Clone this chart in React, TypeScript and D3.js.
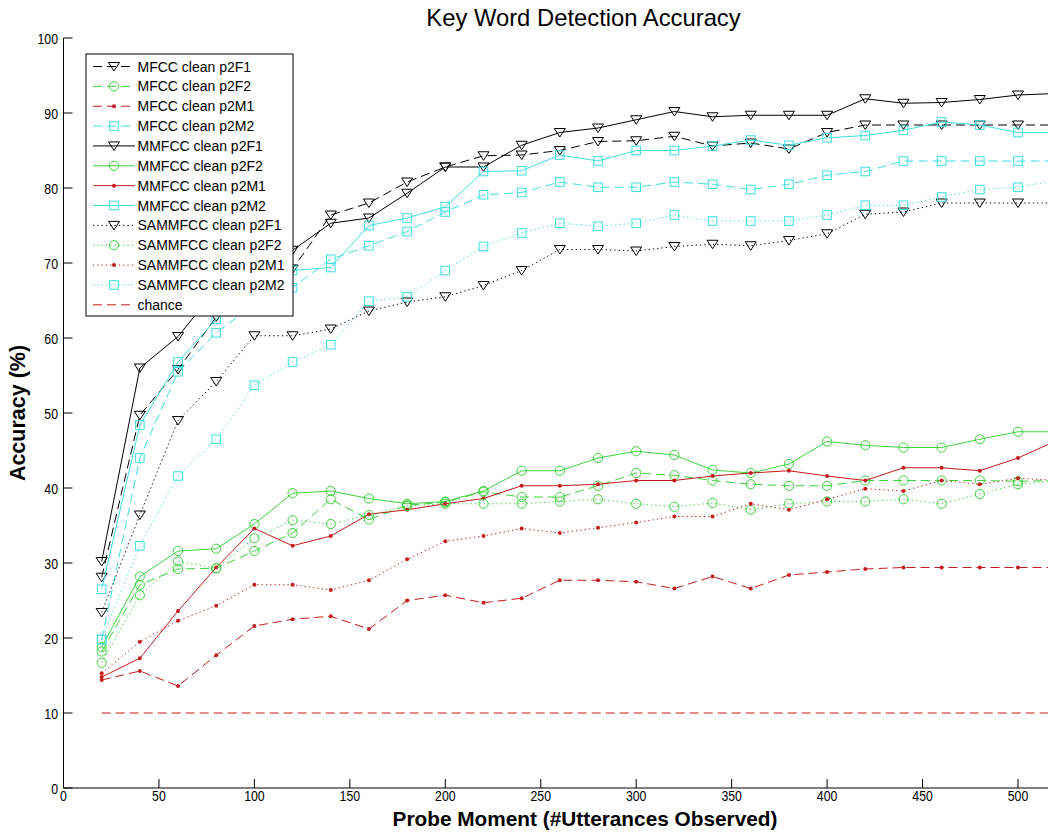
import React from "react";
import * as d3 from "d3";

const probeMoments = [20, 40, 60, 80, 100, 120, 140, 160, 180, 200, 220, 240, 260, 280, 300, 320, 340, 360, 380, 400, 420, 440, 460, 480, 500, 520];

const mfccF1 = [28.1, 49.7, 55.8, 62.8, 66.5, 69.2, 76.4, 78.0, 80.8, 82.8, 84.3, 84.4, 85.0, 86.2, 86.3, 86.9, 85.6, 86.0, 85.2, 87.4, 88.4, 88.4, 88.4, 88.4, 88.4, 88.4];
const mfccF2 = [18.2, 27.1, 29.2, 29.3, 31.6, 34.0, 38.5, 35.8, 37.7, 38.1, 39.5, 38.8, 38.8, 40.3, 42.0, 41.7, 41.0, 40.5, 40.3, 40.3, 41.0, 41.0, 41.0, 41.0, 40.9, 41.0];
const mfccM1 = [14.4, 15.6, 13.6, 17.7, 21.6, 22.5, 22.9, 21.2, 25.0, 25.7, 24.7, 25.3, 27.7, 27.7, 27.5, 26.6, 28.2, 26.6, 28.4, 28.8, 29.2, 29.4, 29.4, 29.4, 29.4, 29.4];
const mfccM2 = [19.8, 44.0, 55.5, 60.7, 64.5, 66.7, 70.5, 72.3, 74.2, 76.8, 79.1, 79.4, 80.8, 80.1, 80.1, 80.8, 80.5, 79.8, 80.5, 81.7, 82.2, 83.6, 83.6, 83.6, 83.6, 83.6];
const mmfccF1 = [30.2, 56.0, 60.2, 66.5, 68.8, 71.7, 75.3, 76.0, 79.3, 82.8, 82.8, 85.7, 87.4, 88.0, 89.1, 90.2, 89.5, 89.7, 89.7, 89.7, 91.9, 91.3, 91.4, 91.8, 92.4, 92.6];
const mmfccF2 = [18.8, 28.2, 31.6, 31.9, 35.2, 39.3, 39.6, 38.6, 37.9, 38.2, 39.6, 42.3, 42.3, 44.0, 44.9, 44.4, 42.4, 42.0, 43.2, 46.2, 45.7, 45.4, 45.4, 46.5, 47.5, 47.5];
const mmfccM1 = [14.8, 17.3, 23.6, 29.4, 34.6, 32.3, 33.6, 36.5, 37.1, 37.9, 38.6, 40.3, 40.3, 40.5, 41.0, 41.0, 41.6, 42.0, 42.3, 41.6, 41.0, 42.7, 42.7, 42.3, 44.0, 46.3];
const mmfccM2 = [26.5, 48.4, 56.8, 62.5, 66.0, 69.0, 69.4, 75.0, 76.0, 77.5, 82.2, 82.3, 84.4, 83.6, 85.0, 85.0, 85.6, 86.4, 85.7, 86.7, 87.0, 87.7, 88.8, 88.4, 87.4, 87.4];
const sammfccF1 = [23.4, 36.4, 49.0, 54.2, 60.3, 60.3, 61.2, 63.6, 64.8, 65.5, 67.0, 69.0, 71.8, 71.8, 71.6, 72.2, 72.5, 72.3, 73.0, 73.9, 76.5, 76.8, 78.0, 78.0, 78.0, 78.0];
const sammfccF2 = [16.7, 25.7, 30.2, 29.3, 33.3, 35.7, 35.2, 36.4, 37.6, 37.9, 37.9, 37.9, 38.2, 38.5, 37.9, 37.5, 38.0, 37.1, 37.9, 38.2, 38.2, 38.5, 37.9, 39.2, 40.5, 41.0];
const sammfccM1 = [15.3, 19.5, 22.3, 24.3, 27.1, 27.1, 26.4, 27.7, 30.5, 32.9, 33.6, 34.6, 34.0, 34.7, 35.4, 36.2, 36.2, 37.9, 37.1, 38.5, 39.9, 39.6, 41.0, 40.5, 41.3, 41.0];
const sammfccM2 = [19.8, 32.3, 41.6, 46.5, 53.7, 56.8, 59.1, 64.9, 65.5, 69.0, 72.2, 74.0, 75.3, 74.9, 75.3, 76.4, 75.6, 75.6, 75.6, 76.4, 77.7, 77.7, 78.8, 79.8, 80.1, 81.0];
const chanceX = [20, 550];
const chanceY = [10, 10];

const xTicks = [0, 50, 100, 150, 200, 250, 300, 350, 400, 450, 500];
const yTicks = [0, 10, 20, 30, 40, 50, 60, 70, 80, 90, 100];

type Marker = "tri" | "circle" | "dot" | "square" | "none";
interface Series { name: string; values: number[]; xs: number[]; color: string; dash: string; marker: Marker; }

const BLACK = "#000000";
const GREEN = "#3fd23f";
const RED = "#c41c1c";
const CYAN = "#3fe0e0";
const DASH = "9,5";
const DOT = "1.3,3";

const series: Series[] = [
  { name: "MFCC clean p2F1", values: mfccF1, xs: probeMoments, color: BLACK, dash: DASH, marker: "tri" },
  { name: "MFCC clean p2F2", values: mfccF2, xs: probeMoments, color: GREEN, dash: DASH, marker: "circle" },
  { name: "MFCC clean p2M1", values: mfccM1, xs: probeMoments, color: RED, dash: DASH, marker: "dot" },
  { name: "MFCC clean p2M2", values: mfccM2, xs: probeMoments, color: CYAN, dash: DASH, marker: "square" },
  { name: "MMFCC clean p2F1", values: mmfccF1, xs: probeMoments, color: BLACK, dash: "", marker: "tri" },
  { name: "MMFCC clean p2F2", values: mmfccF2, xs: probeMoments, color: GREEN, dash: "", marker: "circle" },
  { name: "MMFCC clean p2M1", values: mmfccM1, xs: probeMoments, color: RED, dash: "", marker: "dot" },
  { name: "MMFCC clean p2M2", values: mmfccM2, xs: probeMoments, color: CYAN, dash: "", marker: "square" },
  { name: "SAMMFCC clean p2F1", values: sammfccF1, xs: probeMoments, color: BLACK, dash: DOT, marker: "tri" },
  { name: "SAMMFCC clean p2F2", values: sammfccF2, xs: probeMoments, color: GREEN, dash: DOT, marker: "circle" },
  { name: "SAMMFCC clean p2M1", values: sammfccM1, xs: probeMoments, color: RED, dash: DOT, marker: "dot" },
  { name: "SAMMFCC clean p2M2", values: sammfccM2, xs: probeMoments, color: CYAN, dash: DOT, marker: "square" },
  { name: "chance", values: chanceY, xs: chanceX, color: RED, dash: DASH, marker: "none" },
];

const W = 1048;
const H = 832;
const x = d3.scaleLinear().domain([0, 550]).range([63.5, 63.5 + 550 * 1.909]);
const y = d3.scaleLinear().domain([0, 100]).range([788, 38]);

function MarkerShape({ m, cx, cy, color }: { m: Marker; cx: number; cy: number; color: string }) {
  if (m === "tri") {
    return <polygon points={`${cx - 5.5},${cy - 4} ${cx + 5.5},${cy - 4} ${cx},${cy + 4.5}`} fill="none" stroke={color} strokeWidth={1} />;
  }
  if (m === "circle") return <circle cx={cx} cy={cy} r={4.6} fill="none" stroke={color} strokeWidth={1} />;
  if (m === "square") return <rect x={cx - 4.3} y={cy - 4.3} width={8.6} height={8.6} fill="none" stroke={color} strokeWidth={1} />;
  if (m === "dot") return <circle cx={cx} cy={cy} r={2} fill={color} />;
  return null;
}

export default function App() {
  const line = d3.line<[number, number]>().x((d) => x(d[0])).y((d) => y(d[1]));
  const font = "'Liberation Sans', Arial, Helvetica, sans-serif";
  const legX = 86, legY = 54, legW = 207, legH = 262;
  const rowH = 19.86;
  return (
    <svg width={W} height={H} style={{ position: "absolute", left: 0, top: 0, background: "#fff" }} fontFamily={font}>
      <rect x={0} y={0} width={W} height={H} fill="#fff" />
      <text x={583.5} y={26} textAnchor="middle" fontSize={23.8} fill="#000">Key Word Detection Accuracy</text>
      {/* axes */}
      <line x1={x(0)} y1={y(0)} x2={W + 10} y2={y(0)} stroke="#000" strokeWidth={1} />
      <line x1={x(0)} y1={y(0)} x2={x(0)} y2={y(100)} stroke="#000" strokeWidth={1} />
      {yTicks.map((t) => (
        <g key={"y" + t}>
          <line x1={x(0)} x2={x(0) + 9} y1={y(t)} y2={y(t)} stroke="#000" />
          <text transform={`translate(58, ${y(t) + 5.5}) scale(0.82,1)`} textAnchor="end" fontSize={15} fill="#000">{t}</text>
        </g>
      ))}
      {xTicks.map((t) => (
        <g key={"x" + t}>
          <line x1={x(t)} x2={x(t)} y1={y(0)} y2={y(0) - 9} stroke="#000" />
          <text transform={`translate(${x(t)}, 801) scale(0.82,1)`} textAnchor="middle" fontSize={15} fill="#000">{t}</text>
        </g>
      ))}
      <text x={585} y={826} textAnchor="middle" fontSize={20.8} fontWeight="bold" fill="#000">Probe Moment (#Utterances Observed)</text>
      <text transform={`translate(25, 413) rotate(-90)`} textAnchor="middle" fontSize={21.5} fontWeight="bold" fill="#000">Accuracy (%)</text>
      {/* series */}
      {series.map((s) => {
        const pts: [number, number][] = s.xs.map((xv, i) => [xv, s.values[i]]);
        return (
          <g key={s.name}>
            <path d={line(pts) || ""} fill="none" stroke={s.color} strokeWidth={1} strokeDasharray={s.dash || undefined} />
            {pts.map((p, i) => (
              <MarkerShape key={i} m={s.marker} cx={x(p[0])} cy={y(p[1])} color={s.color} />
            ))}
          </g>
        );
      })}
      {/* legend */}
      <rect x={legX} y={legY} width={legW} height={legH} fill="#fff" stroke="#000" strokeWidth={1} />
      {series.map((s, i) => {
        const cy = legY + 12.5 + i * rowH;
        return (
          <g key={"leg" + s.name}>
            <line x1={93} x2={135} y1={cy} y2={cy} stroke={s.color} strokeWidth={1} strokeDasharray={s.dash || undefined} />
            <MarkerShape m={s.marker} cx={114} cy={cy} color={s.color} />
            <text x={137.5} y={cy + 5} fontSize={14} fill="#000">{s.name}</text>
          </g>
        );
      })}
    </svg>
  );
}
